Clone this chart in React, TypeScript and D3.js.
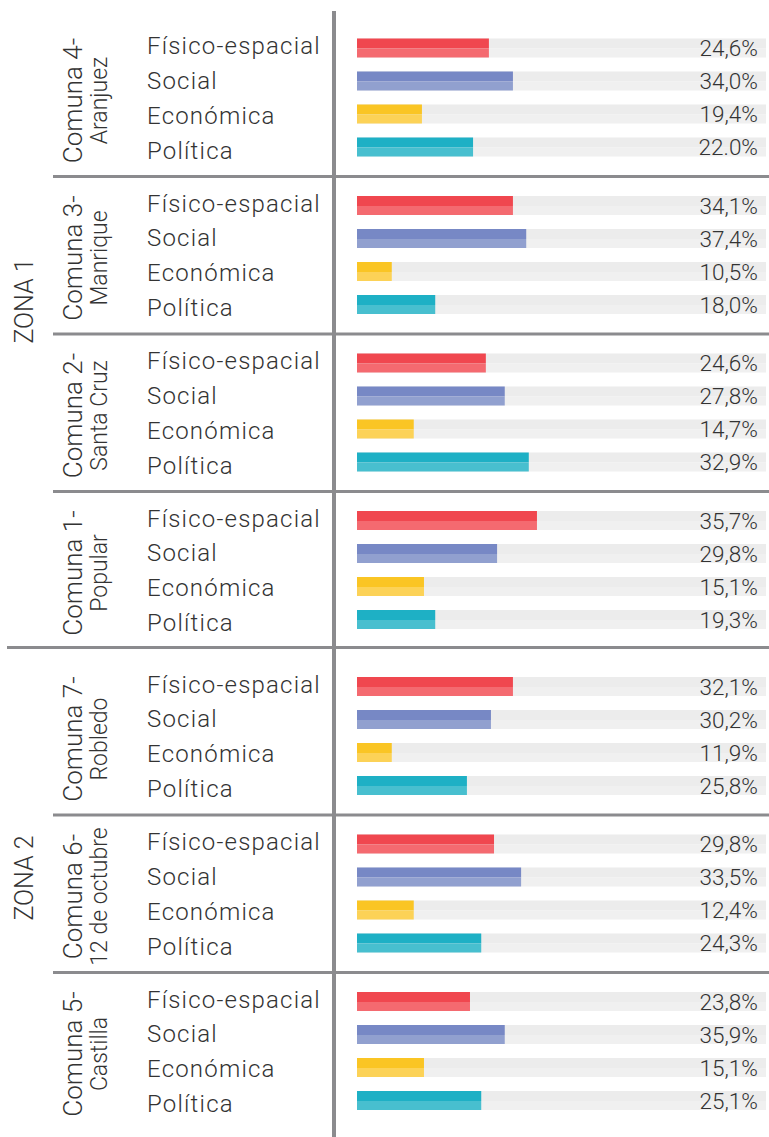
import React from "react";
import * as d3 from "d3";

const zones = ["ZONA 1", "ZONA 2"];
const communeZone = [0, 0, 0, 0, 1, 1, 1];
const communeTitles = ["Comuna 4-", "Comuna 3-", "Comuna 2-", "Comuna 1-", "Comuna 7-", "Comuna 6-", "Comuna 5-"];
const communeNames = ["Aranjuez", "Manrique", "Santa Cruz", "Popular", "Robledo", "12 de octubre", "Castilla"];
const categories = ["Físico-espacial", "Social", "Económica", "Política"];

// Percent labels as printed
const pctLabels = [
  ["24,6%", "34,0%", "19,4%", "22.0%"],
  ["34,1%", "37,4%", "10,5%", "18,0%"],
  ["24,6%", "27,8%", "14,7%", "32,9%"],
  ["35,7%", "29,8%", "15,1%", "19,3%"],
  ["32,1%", "30,2%", "11,9%", "25,8%"],
  ["29,8%", "33,5%", "12,4%", "24,3%"],
  ["23,8%", "35,9%", "15,1%", "25,1%"],
];

// Bar lengths as drawn (scale 0–80 over the track)
const barValues = [
  [25.8, 30.5, 12.7, 22.7],
  [30.5, 33.1, 6.8, 15.3],
  [25.2, 28.9, 11.1, 33.6],
  [35.2, 27.4, 13.1, 15.3],
  [30.5, 26.2, 6.8, 21.5],
  [26.8, 32.1, 11.1, 24.3],
  [22.1, 28.9, 13.1, 24.3],
];

const darkColors = ["#f0474f", "#7788c5", "#fac524", "#1eb0c5"];
const lightColors = ["#f46a70", "#91a0cf", "#fcd257", "#48bfcf"];

const FONT = "Roboto, 'Noto Sans', sans-serif";
const TEXT = "#333333";
const LINE = "#8b8b8e";

export default function App() {
  const W = 769;
  const H = 1137;
  const x = d3.scaleLinear().domain([0, 80]).range([357, 766]);
  const groupStep = 157.5;
  const zoneGap = 8.5;
  const groupTop = (g: number) => 38.5 + g * groupStep + (communeZone[g] > 0 ? zoneGap : 0);
  const rowY = d3.scaleLinear().domain([0, 3]).range([0, 99]);
  const labelY = d3.scaleLinear().domain([0, 3]).range([15.5, 120]);
  const trackH = 19;
  const darkH = 10;

  const separators = communeTitles.slice(1).map((_, i) => {
    const g = i + 1;
    const zoneChange = communeZone[g] !== communeZone[g - 1];
    return {
      y: groupTop(g) - (zoneChange ? 29.5 : 19.5),
      x0: zoneChange ? 7 : 53,
    };
  });

  const zoneCenters = [301, 878];

  return (
    <svg
      width={W}
      height={H}
      style={{ position: "absolute", left: 0, top: 0, background: "#fff" }}
      fontFamily={FONT}
    >
      {separators.map((s, i) => (
        <line key={"sep" + i} x1={s.x0} x2={W} y1={s.y} y2={s.y} stroke={LINE} strokeWidth={3} />
      ))}
      <line x1={334} x2={334} y1={11} y2={H} stroke={LINE} strokeWidth={4} />

      {zones.map((z, i) => (
        <text
          key={z}
          transform={`translate(33,${zoneCenters[i]}) rotate(-90)`}
          textAnchor="middle"
          fontSize={25}
          fontWeight={300}
          fill={TEXT}
        >
          {z}
        </text>
      ))}

      {communeTitles.map((t, g) => {
        const top = groupTop(g);
        const cy = top + 62;
        return (
          <g key={t}>
            <text
              transform={`translate(82,${cy}) rotate(-90)`}
              textAnchor="middle"
              fontSize={26}
              fontWeight={300}
              fill={TEXT}
            >
              {t}
            </text>
            <text
              transform={`translate(107,${cy}) rotate(-90)`}
              textAnchor="middle"
              fontSize={23}
              fontWeight={300}
              fill={TEXT}
            >
              {communeNames[g]}
            </text>
            {categories.map((c, i) => {
              const y = top + rowY(i);
              const v = barValues[g][i];
              return (
                <g key={c}>
                  <text
                    x={147}
                    y={top + labelY(i)}
                    fontSize={24}
                    fontWeight={300}
                    letterSpacing={1.2}
                    fill={TEXT}
                  >
                    {c}
                  </text>
                  <rect x={x(0)} y={y} width={x(80) - x(0)} height={darkH} fill="#ececec" />
                  <rect x={x(0)} y={y + darkH} width={x(80) - x(0)} height={trackH - darkH} fill="#f0f0f0" />
                  <rect x={x(0)} y={y} width={x(v) - x(0)} height={darkH} fill={darkColors[i]} />
                  <rect x={x(0)} y={y + darkH} width={x(v) - x(0)} height={trackH - darkH} fill={lightColors[i]} />
                  <text
                    x={758}
                    y={y + 17.5}
                    textAnchor="end"
                    fontSize={22.5}
                    fontWeight={300}
                    fill={TEXT}
                  >
                    {pctLabels[g][i]}
                  </text>
                </g>
              );
            })}
          </g>
        );
      })}
    </svg>
  );
}
